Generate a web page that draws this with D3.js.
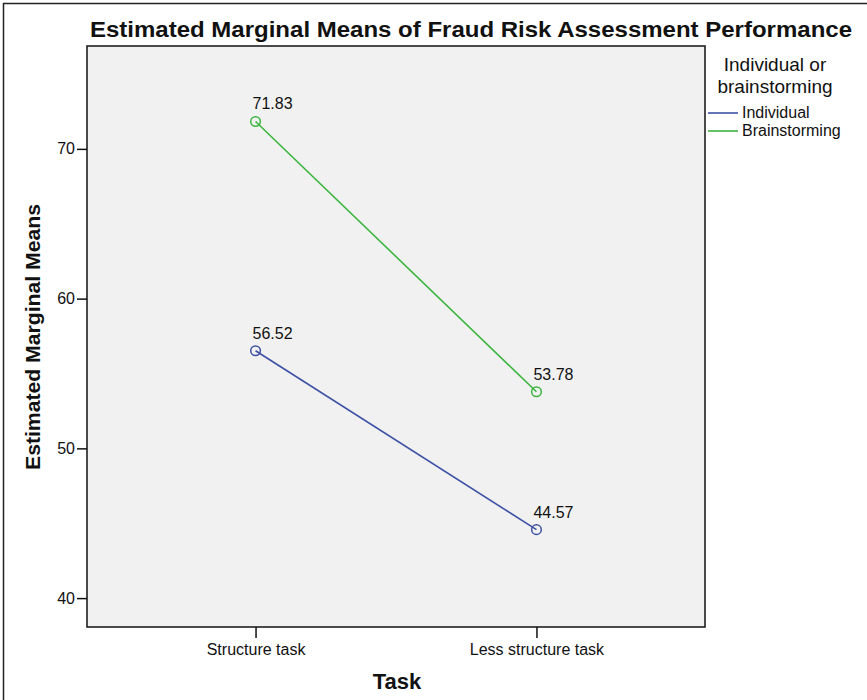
<!DOCTYPE html>
<html><head><meta charset="utf-8">
<script src="https://cdn.jsdelivr.net/npm/d3@7"></script>
<style>body{margin:0;background:#fff}svg{display:block}</style>
</head><body>
<svg id="c" width="867" height="700"></svg>
<script>
const categories = ["Structure task", "Less structure task"];
const seriesNames = ["Individual", "Brainstorming"];
const individual = [56.52, 44.57];
const brainstorming = [71.83, 53.78];
const yTicks = [40, 50, 60, 70];
const colors = ["#3f51a5", "#3db540"];

const svg = d3.select("#c");
const font = "'Liberation Sans', Arial, sans-serif";
const M = {l: 87, r: 705, t: 46, b: 627};

svg.append("path").attr("d", "M3.5,700 L3.5,3.5 L867,3.5").attr("fill","none").attr("stroke","#222").attr("stroke-width",1.5);

svg.append("rect").attr("x", M.l).attr("y", M.t).attr("width", M.r - M.l).attr("height", M.b - M.t)
  .attr("fill", "#f0f1f0").attr("stroke", "#111").attr("stroke-width", 1.5);

const x = d3.scalePoint().domain(categories).range([M.l, M.r]).padding(0.6);
const y = d3.scaleLinear().domain([38.07, 76.87]).range([M.b, M.t]);

const yAxis = svg.append("g").attr("transform", `translate(${M.l},0)`)
  .call(d3.axisLeft(y).tickValues(yTicks).tickSize(10).tickPadding(2).tickFormat(d3.format("d")));
yAxis.select(".domain").remove();
yAxis.selectAll("line").attr("stroke", "#111").attr("stroke-width", 1.5);
yAxis.selectAll("text").attr("font-family", font).attr("font-size", 16).attr("fill", "#111");

const xAxis = svg.append("g").attr("transform", `translate(0,${M.b})`)
  .call(d3.axisBottom(x).tickSize(11).tickPadding(6));
xAxis.select(".domain").remove();
xAxis.selectAll("line").attr("stroke", "#111").attr("stroke-width", 1.5);
xAxis.selectAll("text").attr("font-family", font).attr("font-size", 16).attr("fill", "#111");

const series = [individual, brainstorming];
const line = d3.line().x((d, i) => x(categories[i])).y(d => y(d));
series.forEach((vals, s) => {
  svg.append("path").datum(vals).attr("d", line).attr("fill", "none")
    .attr("stroke", colors[s]).attr("stroke-width", 1.6);
  svg.selectAll(null).data(vals).enter().append("circle")
    .attr("cx", (d, i) => x(categories[i])).attr("cy", d => y(d)).attr("r", 4.8)
    .attr("fill", "none").attr("stroke", colors[s]).attr("stroke-width", 1.5);
  svg.selectAll(null).data(vals).enter().append("text")
    .attr("x", (d, i) => x(categories[i]) - 3).attr("y", d => y(d) - 12)
    .attr("font-family", font).attr("font-size", 16).attr("fill", "#111")
    .text(d => d.toFixed(2));
});

svg.append("text").attr("x", 471).attr("y", 37).attr("text-anchor", "middle")
  .attr("font-family", font).attr("font-weight", "bold").attr("font-size", 22).attr("fill", "#111")
  .attr("textLength", 762).attr("lengthAdjust", "spacingAndGlyphs")
  .text("Estimated Marginal Means of Fraud Risk Assessment Performance");

svg.append("text").attr("transform", "translate(40,337) rotate(-90)").attr("text-anchor", "middle")
  .attr("font-family", font).attr("font-weight", "bold").attr("font-size", 21).attr("fill", "#111")
  .attr("textLength", 266).attr("lengthAdjust", "spacingAndGlyphs")
  .text("Estimated Marginal Means");
svg.append("text").attr("x", 397).attr("y", 689).attr("text-anchor", "middle")
  .attr("font-family", font).attr("font-weight", "bold").attr("font-size", 22).attr("fill", "#111")
  .text("Task");

svg.append("text").attr("x", 775).attr("y", 71).attr("text-anchor", "middle")
  .attr("font-family", font).attr("font-size", 19).attr("fill", "#111").text("Individual or");
svg.append("text").attr("x", 775).attr("y", 93).attr("text-anchor", "middle")
  .attr("font-family", font).attr("font-size", 19).attr("fill", "#111").text("brainstorming");
seriesNames.forEach((n, i) => {
  const ly = 113 + i * 18;
  svg.append("line").attr("x1", 708).attr("x2", 738).attr("y1", ly).attr("y2", ly)
    .attr("stroke", colors[i]).attr("stroke-width", 1.6);
  svg.append("text").attr("x", 742).attr("y", ly + 5).attr("font-family", font)
    .attr("font-size", 16).attr("fill", "#111").text(n);
});
</script>
</body></html>
